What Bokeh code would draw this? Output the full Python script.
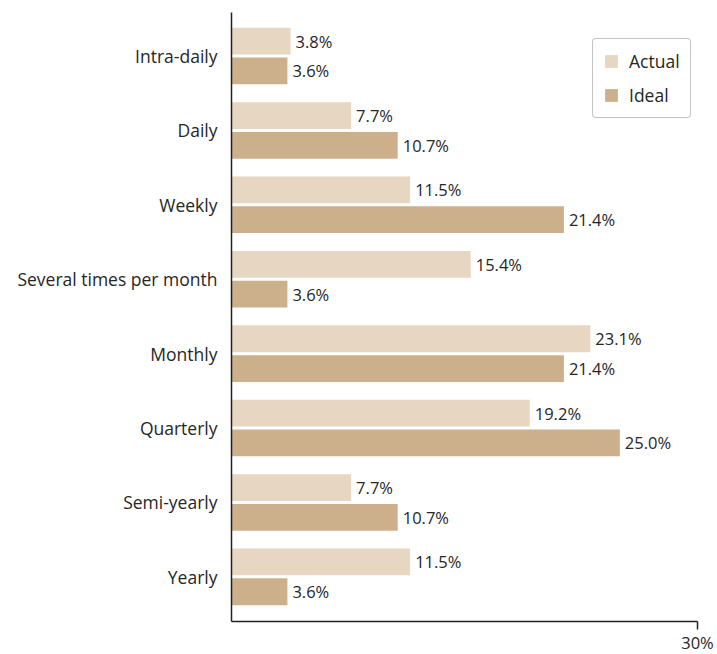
from bokeh.plotting import figure
from bokeh.models import ColumnDataSource, Range1d, FixedTicker, Legend, LegendItem
from bokeh.core.properties import value
from bokeh.embed import file_html
from bokeh.resources import INLINE

categories = ["Intra-daily", "Daily", "Weekly", "Several times per month",
              "Monthly", "Quarterly", "Semi-yearly", "Yearly"]
actual = [3.8, 7.7, 11.5, 15.4, 23.1, 19.2, 7.7, 11.5]
ideal = [3.6, 10.7, 21.4, 3.6, 21.4, 25.0, 10.7, 3.6]
series_names = ["Actual", "Ideal"]
colors = ["#E6D6C2", "#CCB08B"]
x_max = 30

FONT = "Open Sans"
TXT = "#262626"
pos = list(range(len(categories)))

p = figure(frame_width=466, frame_height=609, output_backend="svg", toolbar_location=None,
           x_range=Range1d(0, x_max), y_range=Range1d(7.6, -0.585),
           min_border_left=231, min_border_right=20, min_border_top=12,
           min_border_bottom=33)
p.outline_line_color = None
p.xgrid.visible = False
p.ygrid.visible = False

renderers = []
for vals, off, col, name in zip([actual, ideal], [-0.2, 0.2], colors, series_names):
    src = ColumnDataSource(dict(y=[i + off for i in pos], right=vals,
                                label=[f"{v:.1f}%" for v in vals]))
    r = p.hbar(y="y", left=0, right="right", height=0.36, source=src,
               fill_color=col, line_color=None)
    renderers.append(r)
    p.text(x="right", y="y", text="label", source=src, x_offset=5,
           text_baseline="middle", text_align="left", text_font=value(FONT),
           text_font_size="16.5px", text_color=TXT)

# axes
p.yaxis.ticker = FixedTicker(ticks=pos)
p.yaxis.major_label_overrides = {i: c for i, c in enumerate(categories)}
p.yaxis.major_tick_line_color = None
p.yaxis.major_tick_out = 0
p.yaxis.major_tick_in = 0
p.yaxis.minor_tick_line_color = None
p.yaxis.major_label_standoff = 14
p.yaxis.major_label_text_font = FONT
p.yaxis.major_label_text_font_size = "17.5px"
p.yaxis.major_label_text_color = TXT
p.yaxis.axis_line_color = "#222222"
p.yaxis.axis_line_width = 1.5

p.xaxis.ticker = FixedTicker(ticks=[x_max])
p.xaxis.major_label_overrides = {x_max: f"{x_max}%"}
p.xaxis.major_tick_out = 8
p.xaxis.major_tick_in = 0
p.xaxis.major_tick_line_color = "#222222"
p.xaxis.major_tick_line_width = 1.5
p.xaxis.minor_tick_line_color = None
p.xaxis.major_label_standoff = 1
p.xaxis.major_label_text_font = FONT
p.xaxis.major_label_text_font_size = "16.5px"
p.xaxis.major_label_text_color = TXT
p.xaxis.axis_line_color = "#222222"
p.xaxis.axis_line_width = 1.5

legend = Legend(items=[LegendItem(label=n, renderers=[r]) for n, r in zip(series_names, renderers)],
                location=(361, 503))
legend.margin = 0
legend.padding = 10
legend.spacing = 10
legend.label_standoff = 10
legend.glyph_width = 16
legend.glyph_height = 16
legend.label_height = 21
legend.label_text_font = FONT
legend.label_text_font_size = "17.5px"
legend.label_text_color = TXT
legend.border_line_color = "#888888"
legend.border_line_width = 1.5
legend.border_radius = 4
legend.background_fill_color = "white"
p.add_layout(legend)

open("out.html", "w").write(file_html(p, INLINE))
